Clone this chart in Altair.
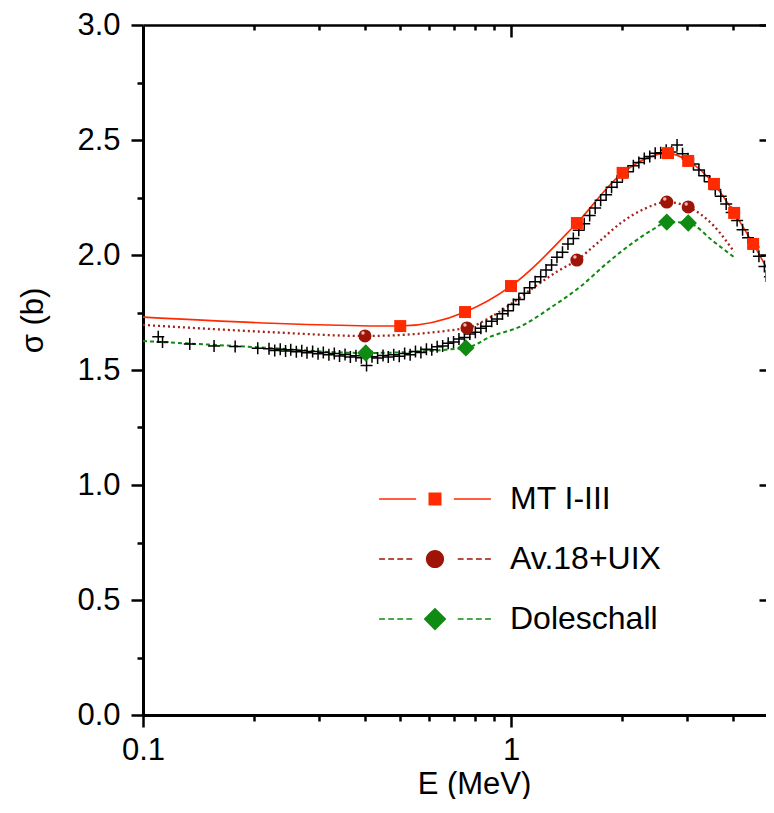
import altair as alt
import pandas as pd

# ---------------- data ----------------
exp_E = [0.110, 0.113, 0.134, 0.156, 0.178, 0.205,
         0.220, 0.228, 0.236, 0.244, 0.252, 0.261, 0.270, 0.279, 0.289, 0.299,
         0.309, 0.320, 0.331, 0.342, 0.354, 0.366, 0.379, 0.392, 0.405, 0.419,
         0.434, 0.449, 0.464, 0.480, 0.497, 0.514, 0.532, 0.550, 0.569, 0.589,
         0.609, 0.630, 0.652, 0.675, 0.698, 0.722, 0.747, 0.773, 0.800, 0.828,
         0.856, 0.886, 0.917, 0.948, 0.981, 1.015, 1.050, 1.087, 1.124, 1.163,
         1.204, 1.245, 1.289, 1.333, 1.380, 1.428, 1.477, 1.528, 1.581, 1.636,
         1.693, 1.752, 1.813, 1.876, 1.941, 2.008, 2.078, 2.150, 2.225, 2.302,
         2.382, 2.465, 2.551, 2.640, 2.731, 2.826, 2.924, 3.026, 3.131, 3.240,
         3.352, 3.469, 3.589, 3.714, 3.843, 3.977, 4.115, 4.258, 4.406, 4.559,
         4.717, 4.881, 5.051, 5.160]
exp_s = [1.645, 1.622, 1.613, 1.604, 1.602, 1.595,
         1.592, 1.585, 1.590, 1.583, 1.588, 1.579, 1.584, 1.575, 1.580, 1.571,
         1.576, 1.566, 1.572, 1.561, 1.567, 1.556, 1.562, 1.553, 1.520, 1.558,
         1.552, 1.563, 1.556, 1.566, 1.560, 1.572, 1.566, 1.580, 1.576, 1.590,
         1.588, 1.601, 1.604, 1.616, 1.622, 1.635, 1.641, 1.656, 1.664, 1.682,
         1.690, 1.712, 1.722, 1.745, 1.758, 1.785, 1.806, 1.834, 1.858, 1.884,
         1.905, 1.935, 1.957, 1.990, 2.012, 2.048, 2.072, 2.108, 2.136, 2.172,
         2.204, 2.238, 2.262, 2.295, 2.316, 2.345, 2.362, 2.388, 2.402, 2.420,
         2.428, 2.442, 2.445, 2.455, 2.448, 2.478, 2.440, 2.418, 2.396, 2.370,
         2.345, 2.318, 2.285, 2.255, 2.222, 2.185, 2.150, 2.110, 2.075, 2.035,
         1.995, 1.950, 1.905, 1.870]

mt_E = [0.50, 0.75, 1.00, 1.51, 2.01, 2.67, 3.03, 3.56, 4.04, 4.55, 5.09]
mt_s = [1.691, 1.752, 1.865, 2.139, 2.357, 2.443, 2.409, 2.309, 2.183, 2.048, 1.909]
mt_line_E = [0.10] + mt_E
mt_line_s = [1.730] + mt_s

av_E = [0.401, 0.759, 1.51, 2.65, 3.03]
av_s = [1.648, 1.683, 1.978, 2.230, 2.209]
av_line_E = [0.10, 0.22, 0.401, 0.759, 0.863, 1.00, 1.16, 1.34, 1.51, 1.74,
             1.99, 2.30, 2.65, 3.03, 3.56, 4.04]
av_line_s = [1.696, 1.665, 1.648, 1.683, 1.722, 1.787, 1.862, 1.930, 1.978, 2.060,
             2.140, 2.200, 2.230, 2.209, 2.126, 2.013]

dol_E = [0.403, 0.754, 2.65, 3.03]
dol_s = [1.574, 1.596, 2.143, 2.139]
dol_line_E = [0.10, 0.20, 0.403, 0.754, 0.88, 1.066, 1.29, 1.55, 1.84, 2.16,
              2.44, 2.65, 3.03, 3.56, 4.04]
dol_line_s = [1.626, 1.600, 1.574, 1.596, 1.645, 1.691, 1.774, 1.865, 1.970, 2.057,
              2.113, 2.143, 2.139, 2.057, 1.990]

series_names = ["MT I-III", "Av.18+UIX", "Doleschall"]

x_major = [0.1, 1]
x_minor = [0.2, 0.3, 0.4, 0.5, 0.6, 0.7, 0.8, 0.9, 2, 3, 4]
y_major = [0, 0.5, 1.0, 1.5, 2.0, 2.5, 3.0]
y_minor = [0.25, 0.75, 1.25, 1.75, 2.25, 2.75]

# ---------------- styling ----------------
FONT = "Liberation Sans"
C_MT = "#ff2a00"
C_AV = "#9e1508"
C_AV_LINE = "#a3221a"
C_DOL = "#0f8a12"

# legend symbols: line segments (thin rects) + marker, in units of symbol radius
MT_SYM = ("M-8.6,-0.12H-2.9V0.12H-8.6Z M2.9,-0.12H8.6V0.12H2.9Z "
          "M-1,-1H1V1H-1Z")
DASHES = ("M-8.6,-0.12H-7.7V0.12H-8.6Z M-7.2,-0.12H-6.3V0.12H-7.2Z "
          "M-5.8,-0.12H-4.9V0.12H-5.8Z M-4.4,-0.12H-3.5V0.12H-4.4Z "
          "M3.5,-0.12H4.4V0.12H3.5Z M4.9,-0.12H5.8V0.12H4.9Z "
          "M6.3,-0.12H7.2V0.12H6.3Z M7.7,-0.12H8.6V0.12H7.7Z ")
AV_SYM = DASHES + "M-1.4,0A1.4,1.4,0,1,1,1.4,0A1.4,1.4,0,1,1,-1.4,0Z"
DOL_SYM = DASHES + "M0,-1.75L1.75,0L0,1.75L-1.75,0Z"
CROSS = "M-1,0H1M0,-1V1"

xscale = alt.Scale(type="log", domain=[0.1, 4.93], nice=False)
yscale = alt.Scale(domain=[0, 3.0], nice=False, zero=False)

common_axis = dict(grid=False, domainColor="black", tickColor="black",
                   labelColor="black", titleColor="black", labelFont=FONT,
                   titleFont=FONT)


def axis(**kw):
    d = dict(common_axis)
    d.update(kw)
    return alt.Axis(**d)


# axes
ax_x_bottom_major = axis(orient="bottom", values=x_major, tickSize=12, tickWidth=2.5,
                         domainWidth=3, labelExpr="datum.value < 0.5 ? '0.1' : '1'",
                         labelFontSize=31, labelPadding=8, title="E (MeV)",
                         titleFontSize=31, titleFontWeight="normal", titleX=331,
                         titleY=69, titleBaseline="middle", labelFlush=False)
ax_x_bottom_minor = axis(orient="bottom", values=x_minor, tickSize=6, tickWidth=2.5,
                         domain=False, labels=False, title=None)
ax_x_top_domain = axis(orient="top", ticks=False, labels=False, domainWidth=2.5,
                       title=None)
ax_x_top_major = axis(orient="top", values=[1], offset=-12, tickSize=12, tickWidth=2.5,
                      domain=False, labels=False, title=None)
ax_x_top_minor = axis(orient="top", values=x_minor, offset=-5, tickSize=5, tickWidth=2.5,
                      domain=False, labels=False, title=None)

ax_y_left_major = axis(orient="left", values=y_major, tickSize=12, tickWidth=2.5,
                       domainWidth=3, format=".1f", labelFontSize=31, labelPadding=11,
                       title="σ (b)", titleFontSize=31, titleFontWeight="normal",
                       titleX=-110, titleY=295, titleBaseline="middle")
ax_y_left_minor = axis(orient="left", values=y_minor, tickSize=6, tickWidth=2.5,
                       domain=False, labels=False, title=None)
ax_y_right = axis(orient="right", values=y_major, offset=-7, tickSize=7, tickWidth=2.5,
                  domain=False, labels=False, title=None)

# ---------------- frames ----------------
exp_df = pd.DataFrame({"E": exp_E, "s": exp_s})
mt_df = pd.DataFrame({"E": mt_E, "s": mt_s})
mt_line_df = pd.DataFrame({"E": mt_line_E, "s": mt_line_s})
av_df = pd.DataFrame({"E": av_E, "s": av_s})
av_line_df = pd.DataFrame({"E": av_line_E, "s": av_line_s})
dol_df = pd.DataFrame({"E": dol_E, "s": dol_s})
dol_line_df = pd.DataFrame({"E": dol_line_E, "s": dol_line_s})
leg_df = pd.DataFrame({"series": series_names, "E": [1.0] * 3, "s": [1.0] * 3})


def X(ax):
    return alt.X("E:Q", scale=xscale, axis=ax)


def Y(ax):
    return alt.Y("s:Q", scale=yscale, axis=ax)


mt_line = alt.Chart(mt_line_df).mark_line(
    color=C_MT, strokeWidth=1.6, interpolate="monotone", clip=True
).encode(x=X(ax_x_top_domain), y=Y(ax_y_right))

av_line = alt.Chart(av_line_df).mark_line(
    color=C_AV_LINE, strokeWidth=2.3, strokeDash=[2, 3], interpolate="monotone", clip=True
).encode(x=X(ax_x_top_major), y=Y(ax_y_left_minor))

dol_line = alt.Chart(dol_line_df).mark_line(
    color=C_DOL, strokeWidth=2, strokeDash=[4, 3], interpolate="monotone", clip=True
).encode(x=X(ax_x_top_minor), y=Y(None))

exp_pts = alt.Chart(exp_df).mark_point(
    shape=CROSS, filled=False, stroke="black", strokeWidth=1.5, size=144, opacity=1,
    clip=True
).encode(x=X(ax_x_bottom_major), y=Y(ax_y_left_major))

mt_pts = alt.Chart(mt_df).mark_point(
    shape="square", filled=True, color=C_MT, size=144, opacity=1, clip=True
).encode(x=X(ax_x_bottom_minor), y=Y(None))

av_pts = alt.Chart(av_df).mark_point(
    shape="circle", filled=True, color=C_AV, size=170, opacity=1
).encode(x=X(None), y=Y(None))

av_hi = alt.Chart(av_df).mark_point(
    shape="circle", filled=True, color="#f3c9c2", size=12, opacity=0.9
).encode(x=X(None), y=Y(None), xOffset=alt.value(-2), yOffset=alt.value(-3))

dol_pts = alt.Chart(dol_df).mark_point(
    shape="diamond", filled=True, color=C_DOL, size=300, opacity=1
).encode(x=X(None), y=Y(None))

legend = alt.Legend(orient="none", legendX=276, legendY=458, title=None,
                    labelFont=FONT, labelFontSize=32, labelColor="black",
                    symbolSize=169, symbolStrokeWidth=0, symbolOpacity=1,
                    labelOffset=59, rowPadding=28, padding=0, labelLimit=400)

leg = alt.Chart(leg_df).mark_point(filled=True, opacity=0).encode(
    x=X(None), y=Y(None),
    color=alt.Color("series:N", scale=alt.Scale(domain=series_names,
                                                range=[C_MT, C_AV, C_DOL]),
                    legend=legend, sort=series_names),
    shape=alt.Shape("series:N", scale=alt.Scale(domain=series_names,
                                                range=[MT_SYM, AV_SYM, DOL_SYM]),
                    legend=legend, sort=series_names),
)

chart = alt.layer(
    mt_line, av_line, dol_line, exp_pts, mt_pts, av_pts, av_hi, dol_pts, leg
).resolve_axis(
    x="independent", y="independent"
).properties(
    width=623, height=690,
    padding={"left": 135, "top": 17, "right": 0, "bottom": 84},
    autosize=alt.AutoSizeParams(type="none"),
    background="white",
).configure_view(stroke=None)

chart.save("out.html", embed_options={"renderer": "svg", "actions": False})
